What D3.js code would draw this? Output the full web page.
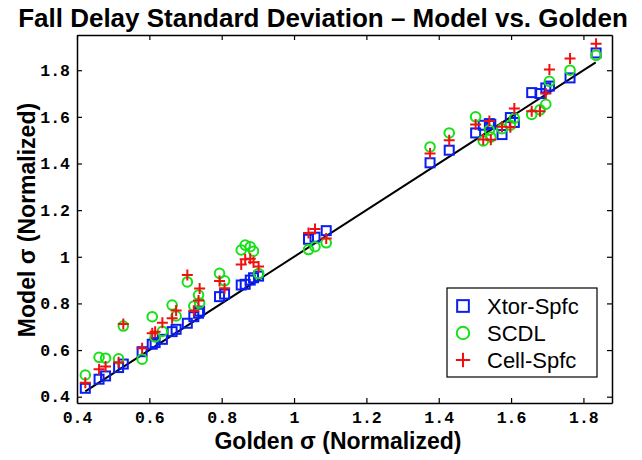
<!DOCTYPE html>
<html>
<head>
<meta charset="utf-8">
<script src="https://cdn.jsdelivr.net/npm/d3@7"></script>
<style>
  body { margin: 0; background: #fff; }
  .tick text { font-family: "Courier New", "Liberation Mono", monospace; font-weight: bold; font-size: 16.5px; fill: #000; }
  .domain { stroke: #000; stroke-width: 1.5; }
  .tick line { stroke: #000; stroke-width: 1.2; }
</style>
</head>
<body>
<svg id="chart" width="642" height="460"></svg>
<script>
// golden sigma (shared by all three models)
const golden = [0.423, 0.461, 0.479, 0.515, 0.528, 0.580, 0.608, 0.616, 0.636, 0.663,
  0.674, 0.705, 0.723, 0.736, 0.739, 0.794, 0.808, 0.854, 0.865, 0.879,
  0.888, 0.902, 1.040, 1.058, 1.089, 1.376, 1.429, 1.502, 1.523, 1.540,
  1.544, 1.575, 1.598, 1.609, 1.657, 1.680, 1.696, 1.706, 1.763, 1.835];

const xtorSpfc = [0.436, 0.475, 0.489, 0.525, 0.540, 0.593, 0.625, 0.632, 0.646, 0.679,
  0.689, 0.715, 0.743, 0.758, 0.767, 0.829, 0.840, 0.879, 0.882, 0.900,
  0.910, 0.917, 1.075, 1.084, 1.112, 1.403, 1.457, 1.531, 1.564, 1.571,
  1.568, 1.524, 1.597, 1.576, 1.704, 1.700, 1.724, 1.732, 1.767, 1.874];

const scdl = [0.493, 0.569, 0.565, 0.562, 0.703, 0.561, 0.743, 0.656, 0.680, 0.793,
  0.746, 0.892, 0.789, 0.836, 0.802, 0.929, 0.897, 1.029, 1.050, 1.043,
  1.024, 0.928, 1.031, 1.043, 1.060, 1.471, 1.531, 1.600, 1.497, 1.543,
  1.513, 1.549, 1.564, 1.594, 1.610, 1.630, 1.654, 1.752, 1.800, 1.864];

const cellSpfc = [0.460, 0.518, 0.529, 0.548, 0.712, 0.608, 0.672, 0.679, 0.717, 0.736,
  0.770, 0.922, 0.769, 0.812, 0.864, 0.896, 0.865, 0.967, 0.989, 0.992,
  0.977, 0.958, 1.102, 1.119, 1.078, 1.443, 1.500, 1.567, 1.503, 1.582,
  1.502, 1.558, 1.555, 1.636, 1.624, 1.624, 1.700, 1.803, 1.850, 1.914];

const tickValues = [0.4, 0.6, 0.8, 1, 1.2, 1.4, 1.6, 1.8];
const idealLine = [0.423, 1.834];

const seriesNames = ["Xtor-Spfc", "SCDL", "Cell-Spfc"];
const seriesColors = ["#0a1ef0", "#16e016", "#f01010"];
const seriesShapes = ["square", "circle", "cross"];

const svg = d3.select("#chart");
const plot = { left: 77, right: 612, top: 35, bottom: 403 };
const sans = "Arial, 'Liberation Sans', sans-serif";

const x = d3.scaleLinear().domain([0.4, 1.879]).range([plot.left, plot.right]);
const y = d3.scaleLinear().domain([0.373, 1.951]).range([plot.bottom, plot.top]);

const fmt = d => String(+d.toFixed(1));

// axes, ticks pointing inward on all four sides
svg.append("g")
  .attr("transform", `translate(0,${plot.bottom})`)
  .call(d3.axisBottom(x).tickValues(tickValues).tickFormat(fmt).tickSizeInner(-5).tickSizeOuter(0).tickPadding(8));
svg.append("g")
  .attr("transform", `translate(0,${plot.top})`)
  .call(d3.axisTop(x).tickValues(tickValues).tickFormat("").tickSizeInner(-5).tickSizeOuter(0));
svg.append("g")
  .attr("transform", `translate(${plot.left},0)`)
  .call(d3.axisLeft(y).tickValues(tickValues).tickFormat(fmt).tickSizeInner(-5).tickSizeOuter(0).tickPadding(7));
svg.append("g")
  .attr("transform", `translate(${plot.right},0)`)
  .call(d3.axisRight(y).tickValues(tickValues).tickFormat("").tickSizeInner(-5).tickSizeOuter(0));

svg.selectAll(".tick text").attr("font-size", null);

// y = x reference line
svg.append("line")
  .attr("x1", x(idealLine[0])).attr("y1", y(idealLine[0]))
  .attr("x2", x(idealLine[1])).attr("y2", y(idealLine[1]))
  .attr("stroke", "#000").attr("stroke-width", 2);

function drawMarker(g, shape, color, cx, cy, s) {
  s = s || 1;
  if (shape === "square") {
    g.append("rect").attr("x", cx - 4.5 * s).attr("y", cy - 4.5 * s).attr("width", 9 * s).attr("height", 9 * s)
      .attr("fill", "none").attr("stroke", color).attr("stroke-width", 2);
  } else if (shape === "circle") {
    g.append("circle").attr("cx", cx).attr("cy", cy).attr("r", 4.8 * s)
      .attr("fill", "none").attr("stroke", color).attr("stroke-width", 2);
  } else {
    const h = 5.5 * s;
    g.append("path").attr("d", `M${cx - h},${cy}H${cx + h}M${cx},${cy - h}V${cy + h}`)
      .attr("stroke", color).attr("stroke-width", 2);
  }
}

const seriesValues = [xtorSpfc, scdl, cellSpfc];
seriesValues.forEach((vals, i) => {
  const g = svg.append("g").attr("class", "series");
  vals.forEach((v, j) => drawMarker(g, seriesShapes[i], seriesColors[i], x(golden[j]), y(v)));
});

// legend
const lg = svg.append("g").attr("transform", "translate(447,288)");
lg.append("rect").attr("width", 150).attr("height", 89)
  .attr("fill", "#fff").attr("stroke", "#000").attr("stroke-width", 1.2);
seriesNames.forEach((name, i) => {
  const cy = 18 + i * 27;
  drawMarker(lg, seriesShapes[i], seriesColors[i], 16, cy, 1.3);
  lg.append("text").attr("x", 40).attr("y", cy + 8)
    .attr("font-family", sans).attr("font-size", 22)
    .text(name);
});

// titles
svg.append("text").attr("x", 323).attr("y", 27).attr("text-anchor", "middle")
  .attr("font-family", sans).attr("font-weight", "bold").attr("font-size", 26)
  .text("Fall Delay Standard Deviation \u2013 Model vs. Golden");
svg.append("text").attr("x", 338).attr("y", 449).attr("text-anchor", "middle")
  .attr("font-family", sans).attr("font-weight", "bold").attr("font-size", 23)
  .text("Golden \u03c3 (Normalized)");
svg.append("text").attr("transform", "translate(35,220) rotate(-90)").attr("text-anchor", "middle")
  .attr("font-family", sans).attr("font-weight", "bold").attr("font-size", 23)
  .text("Model \u03c3 (Normalized)");
</script>
</body>
</html>
